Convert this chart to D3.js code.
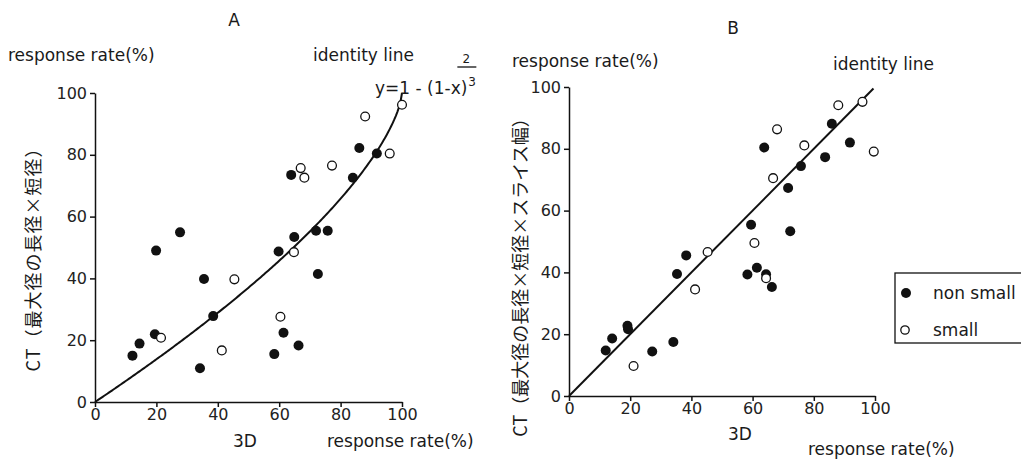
<!DOCTYPE html>
<html>
<head>
<meta charset="utf-8">
<script src="https://cdn.jsdelivr.net/npm/d3@7"></script>
<style>
  body { margin: 0; background: #fff; }
  svg text { font-family: "DejaVu Sans", "Noto Sans CJK JP", sans-serif; fill: #1a1a1a; }
  .axis path, .axis line { stroke: #111; stroke-width: 1.5px; }
  .axis text { font-size: 16px; fill: #222; font-family: "DejaVu Sans", sans-serif; }
  .ylab { font-family: "Noto Sans CJK JP", sans-serif; }
</style>
</head>
<body>
<svg id="chart"></svg>
<script>
// tick labels, shared by both panels
var ticks = [0, 20, 40, 60, 80, 100]

// panel A : 3D vs CT (long x short diameter)
var aNonSmall = [
    [12.2, 15.0], [14.5, 18.9], [19.5, 21.9], [19.9, 49.0], [27.7, 54.9],
    [35.5, 39.8], [34.2, 10.9], [38.5, 27.8], [58.4, 15.5], [59.8, 48.7],
    [61.4, 22.4], [63.9, 73.5], [64.9, 53.4], [66.3, 18.3], [72.0, 55.4],
    [72.6, 41.4], [75.8, 55.4], [84.0, 72.6], [86.1, 82.2], [91.8, 80.4]
]
var aSmall = [
    [21.5, 20.8], [41.3, 16.7], [45.4, 39.7], [60.4, 27.6], [64.8, 48.5],
    [67.0, 75.7], [68.2, 72.6], [77.2, 76.5], [88.0, 92.4], [96.0, 80.4],
    [100, 96.2]
]

// panel B : 3D vs CT (long x short diameter x slice width)
var bNonSmall = [
    [12.0, 14.7], [14.1, 18.6], [19.1, 22.7], [19.3, 21.6], [27.2, 14.4],
    [34.1, 17.5], [35.3, 39.5], [38.3, 45.5], [58.3, 39.3], [59.5, 55.4],
    [61.4, 41.5], [63.8, 80.4], [64.4, 39.4], [66.3, 35.3], [71.6, 67.3],
    [72.3, 53.3], [75.8, 74.4], [83.7, 77.3], [85.9, 88.1], [91.8, 82.0]
]
var bSmall = [
    [21.1, 9.7], [41.2, 34.5], [45.3, 46.6], [60.6, 49.5], [64.4, 38.1],
    [66.7, 70.5], [68.0, 86.3], [76.9, 81.1], [88.0, 94.1], [95.9, 95.2],
    [99.6, 79.1]
]

var legendLabels = ["non small", "small"]

var width = 1021, height = 461
var svg = d3.select("#chart")
    .attr("width", width)
    .attr("height", height)

function panel(opts) {
    var x = d3.scaleLinear().domain([0, 100]).range(opts.xr)
    var y = d3.scaleLinear().domain([0, 100]).range(opts.yr)
    var g = svg.append("g")

    g.append("g")
        .attr("class", "axis")
        .attr("transform", "translate(0," + y(0) + ")")
        .call(d3.axisBottom(x).tickValues(ticks).tickSize(5).tickSizeOuter(0).tickPadding(2))
    g.append("g")
        .attr("class", "axis")
        .attr("transform", "translate(" + x(0) + ",0)")
        .call(d3.axisLeft(y).tickValues(ticks).tickSize(5).tickSizeOuter(0).tickPadding(3))

    // reference line
    var line = d3.line()
        .x(function (d) { return x(d[0]) })
        .y(function (d) { return y(d[1]) })
    g.append("path")
        .datum(opts.curve)
        .attr("d", line)
        .attr("fill", "none")
        .attr("stroke", "#111")
        .attr("stroke-width", 2)

    g.selectAll("circle.filled")
        .data(opts.filled)
        .enter()
        .append("circle")
            .attr("class", "filled")
            .attr("cx", function (d) { return x(d[0]) })
            .attr("cy", function (d) { return y(d[1]) })
            .attr("r", 5)
            .attr("fill", "#111")

    g.selectAll("circle.open")
        .data(opts.open)
        .enter()
        .append("circle")
            .attr("class", "open")
            .attr("cx", function (d) { return x(d[0]) })
            .attr("cy", function (d) { return y(d[1]) })
            .attr("r", 4.4)
            .attr("fill", "#fff")
            .attr("stroke", "#111")
            .attr("stroke-width", 1.3)

    return g
}

// y = 1 - (1 - x)^(2/3), drawn in percent
var curveA = d3.range(0, 100.01, 0.5).map(function (p) {
    return [p, 100 * (1 - Math.pow(1 - p / 100, 2 / 3))]
})
var gA = panel({ xr: [95, 402], yr: [402, 93], filled: aNonSmall, open: aSmall, curve: curveA })
var gB = panel({ xr: [569, 875], yr: [396, 87], filled: bNonSmall, open: bSmall, curve: [[0, 0], [99.5, 99.5]] })

// titles and labels
function label(g, txt, x, y, size, anchor) {
    return g.append("text")
        .attr("x", x)
        .attr("y", y)
        .attr("font-size", size)
        .attr("text-anchor", anchor || "start")
        .text(txt)
}

label(gA, "A", 234, 26, 17, "middle")
label(gA, "response rate(%)", 8, 61, 17)
label(gA, "identity line", 313, 61, 17)
var formula = label(gA, "y=1 - (1-x)", 375, 94, 17)
var fEnd = 375 + formula.node().getComputedTextLength()
label(gA, "3", fEnd + 1, 86, 12)
label(gA, "2", fEnd - 1, 63, 12, "middle")
gA.append("line")
    .attr("x1", fEnd - 10).attr("x2", fEnd + 9)
    .attr("y1", 67).attr("y2", 67)
    .attr("stroke", "#111").attr("stroke-width", 1.3)
label(gA, "3D", 245, 447, 17, "middle")
label(gA, "response rate(%)", 327, 447, 17)
label(gA, "CT（最大径の長径×短径）", 0, 0, 18, "middle")
    .attr("class", "ylab")
    .attr("letter-spacing", 1)
    .attr("transform", "translate(40,255) rotate(-90)")

label(gB, "B", 733, 34, 17, "middle")
label(gB, "response rate(%)", 512, 67, 17)
label(gB, "identity line", 833, 70, 17)
label(gB, "3D", 740, 440, 17, "middle")
label(gB, "response rate(%)", 808, 455, 17)
label(gB, "CT（最大径の長径×短径×スライス幅）", 0, 0, 18, "middle")
    .attr("class", "ylab")
    .attr("transform", "translate(527,273) rotate(-90)")

// legend
var lg = svg.append("g")
lg.append("rect")
    .attr("x", 895).attr("y", 273)
    .attr("width", 140).attr("height", 70)
    .attr("fill", "none")
    .attr("stroke", "#111")
    .attr("stroke-width", 1.3)
lg.append("circle").attr("cx", 906).attr("cy", 293).attr("r", 5).attr("fill", "#111")
lg.append("circle").attr("cx", 905).attr("cy", 330).attr("r", 4.2)
    .attr("fill", "#fff").attr("stroke", "#111").attr("stroke-width", 1.3)
label(lg, legendLabels[0], 933, 299, 17)
label(lg, legendLabels[1], 933, 336, 17)
</script>
</body>
</html>
